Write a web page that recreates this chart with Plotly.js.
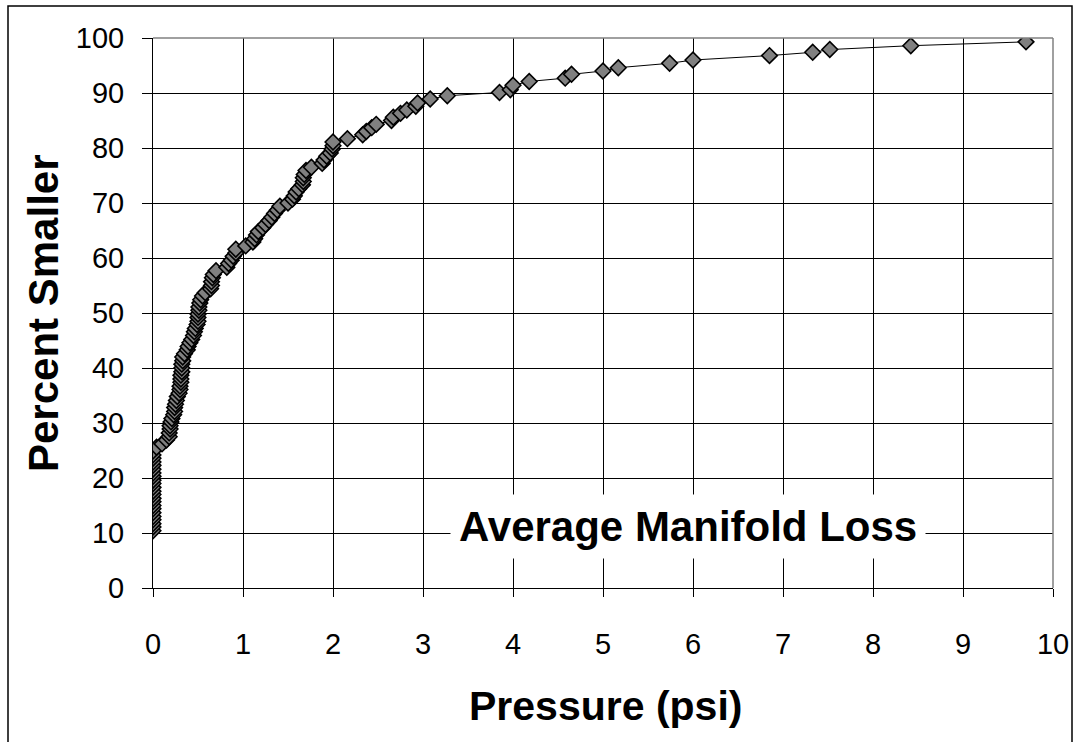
<!DOCTYPE html>
<html>
<head>
<meta charset="utf-8">
<script src="https://cdn.plot.ly/plotly-3.0.1.min.js"></script>
<style>
html,body{margin:0;padding:0;background:#fff;}
#chart{width:1073px;height:742px;}
</style>
</head>
<body>
<div id="chart"></div>
<script>
// Pressure (psi) values
const pressure = [
  0,0,0,0,0,0,0,0,0,0,0,0,0,0,0,0,0,0,0,0,0,0,0,
  0.04,0.10,0.15,
  0.18,0.18,0.19,0.19,0.20,
  0.21,0.23,0.24,0.24,0.25,0.26,
  0.27,0.29,0.30,0.30,0.31,0.31,0.31,0.32,0.32,0.32,0.33,0.33,
  0.35,0.38,0.39,0.41,0.43,0.45,0.46,0.47,0.49,0.50,0.50,0.50,0.51,0.51,0.52,0.53,0.55,0.58,
  0.64,0.65,0.65,0.66,0.67,0.70,
  0.82,0.84,0.87,0.89,0.92,0.92,1.03,1.11,1.13,1.15,1.17,1.22,1.25,1.29,1.32,1.35,1.38,1.41,
  1.50,1.55,1.57,1.59,1.62,1.66,1.67,1.67,1.68,1.70,1.76,1.88,1.90,1.93,1.97,1.99,2.00,2.00,
  2.16,2.33,2.37,2.43,2.48,2.65,2.67,2.75,2.82,2.92,2.94,3.08,3.27,
  3.85,3.97,4.00,4.18,4.58,4.65,5.00,5.17,5.74,6.00,6.85,7.33,7.52,8.42,9.70
];
// Percent smaller values
const percentSmaller = [
  10.4,11.1,11.7,12.4,13.0,13.7,14.4,15.0,15.7,16.3,17.0,17.6,18.3,19.0,19.6,20.3,20.9,21.6,22.3,22.9,23.6,24.2,24.9,
  25.6,26.2,26.9,
  27.5,28.2,28.9,29.5,30.2,
  30.8,31.5,32.1,32.8,33.4,34.1,
  34.8,35.4,36.1,36.7,37.4,38.0,38.7,39.3,40.0,40.7,41.3,42.0,
  42.6,43.3,43.9,44.6,45.2,45.9,46.6,47.2,47.9,48.5,49.2,49.8,50.5,51.1,51.8,52.4,53.1,53.7,
  54.4,55.0,55.7,56.4,57.0,57.7,
  58.3,59.0,59.6,60.3,60.9,61.6,62.2,62.9,63.5,64.2,64.8,65.5,66.1,66.8,67.4,68.1,68.7,69.4,
  70.0,70.7,71.3,72.0,72.6,73.3,73.9,74.6,75.2,75.9,76.5,77.2,77.8,78.5,79.1,79.8,80.4,81.1,
  81.7,82.4,83.0,83.7,84.3,85.0,85.6,86.3,86.9,87.6,88.2,88.9,89.5,
  90.1,90.6,91.4,92.1,92.7,93.4,94.0,94.6,95.4,96.0,96.8,97.4,97.9,98.6,99.3
];
const xTicks = [0,1,2,3,4,5,6,7,8,9,10];
const yTicks = [0,10,20,30,40,50,60,70,80,90,100];
const xTitle = 'Pressure (psi)';
const yTitle = 'Percent Smaller';
const noteText = 'Average Manifold Loss';

const FONT = 'Liberation Sans, Arial, sans-serif';

const trace = {
  type: 'scatter',
  mode: 'lines+markers',
  x: pressure,
  y: percentSmaller,
  line: {color: '#000000', width: 1},
  marker: {symbol: 'diamond', size: 12, color: '#808080', line: {color: '#000000', width: 1.6}},
  hoverinfo: 'x+y',
  showlegend: false
};

const L = 153, R = 20, T = 38, B = 154;
const W = 1073, H = 742;
const pw = W - L - R, ph = H - T - B;
const px = v => (v - L) / pw;
const py = v => (H - B - v) / ph;

const layout = {
  width: W, height: H,
  margin: {l: L, r: R, t: T, b: B, pad: 0},
  paper_bgcolor: '#ffffff',
  plot_bgcolor: '#ffffff',
  font: {family: FONT, color: '#000000', size: 28},
  xaxis: {
    range: [0, 10],
    tickvals: xTicks,
    ticktext: xTicks.map(String),
    showgrid: true, gridcolor: '#000000', gridwidth: 1,
    zeroline: false,
    showline: true, linecolor: '#000000', linewidth: 1,
    ticks: 'outside', ticklen: 8, tickcolor: '#000000', tickwidth: 1,
    tickfont: {family: FONT, size: 29, color: '#000000'},
    ticklabelstandoff: 22,
    fixedrange: true
  },
  yaxis: {
    range: [0, 100],
    tickvals: yTicks,
    ticktext: yTicks.map(String),
    showgrid: true, gridcolor: '#000000', gridwidth: 1,
    zeroline: false,
    showline: true, linecolor: '#000000', linewidth: 1,
    ticks: 'outside', ticklen: 10, tickcolor: '#000000', tickwidth: 1,
    tickfont: {family: FONT, size: 29, color: '#000000'},
    ticklabelstandoff: 12,
    fixedrange: true
  },
  shapes: [
    {type: 'rect', xref: 'paper', yref: 'paper',
     x0: px(8), x1: px(1072), y0: py(760), y1: py(6),
     line: {color: '#000000', width: 1.5}, fillcolor: 'rgba(0,0,0,0)', layer: 'below'},
    {type: 'line', xref: 'paper', yref: 'paper', x0: 0, x1: 1, y0: 1, y1: 1,
     line: {color: '#808080', width: 1.5}, layer: 'above'},
    {type: 'line', xref: 'paper', yref: 'paper', x0: 1, x1: 1, y0: 0, y1: 1,
     line: {color: '#808080', width: 1.5}, layer: 'above'}
  ],
  annotations: [
    {text: '<b>' + noteText + '</b>', x: 5.94, y: 11.1, xref: 'x', yref: 'y',
     showarrow: false, bgcolor: '#ffffff', borderpad: 8,
     font: {family: FONT, size: 42, color: '#000000'}},
    {text: '<b>' + yTitle + '</b>', xref: 'paper', yref: 'paper',
     x: px(43), y: 0.5, textangle: -90, showarrow: false,
     xanchor: 'center', yanchor: 'middle',
     font: {family: FONT, size: 42, color: '#000000'}},
    {text: '<b>' + xTitle + '</b>', xref: 'paper', yref: 'paper',
     x: px(605), y: py(706), showarrow: false,
     xanchor: 'center', yanchor: 'middle',
     font: {family: FONT, size: 41, color: '#000000'}}
  ]
};

Plotly.newPlot('chart', [trace], layout, {displayModeBar: false, staticPlot: true});
</script>
</body>
</html>
